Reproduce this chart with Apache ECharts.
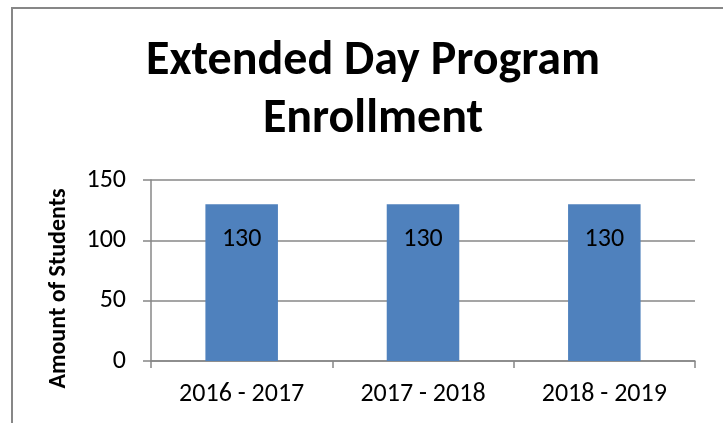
<!DOCTYPE html>
<html style="height: 100%">

<head>
  <meta charset="UTF-8" />
  <title>Extended Day Program Enrollment</title>
  <script src="https://cdn.jsdelivr.net/npm/echarts@6/dist/echarts.min.js"></script>
</head>

<body style="height: 100%; margin: 0; background: #fff">
  <div id="main" style="width: 723px; height: 423px"></div>
  <script>
    const years = ['2016 - 2017', '2017 - 2018', '2018 - 2019'];
    const enrollment = [130, 130, 130];
    const yTicks = [0, 50, 100, 150];

    const font = 'Carlito, Lato, sans-serif';
    const chart = echarts.init(document.getElementById('main'));

    const option = {
      animation: false,
      textStyle: { fontFamily: font },
      title: {
        text: 'Extended Day Program\nEnrollment',
        left: 368,
        top: 28,
        textAlign: 'center',
        textStyle: {
          fontFamily: font,
          fontSize: 48,
          fontWeight: 'bold',
          color: '#000',
          lineHeight: 58,
        },
      },
      // outer chart-area border (runs off the right and bottom)
      graphic: [{
        type: 'rect',
        shape: { x: 12, y: 8, width: 760, height: 460 },
        style: { fill: null, stroke: '#878787', lineWidth: 2 },
        silent: true,
      }],
      grid: { left: 151, right: 28, top: 180, bottom: 62 },
      xAxis: {
        type: 'category',
        data: years,
        axisLine: { lineStyle: { color: '#878787', width: 1.5 } },
        axisTick: { show: true, length: 7, lineStyle: { color: '#878787', width: 1.5 } },
        axisLabel: { color: '#000', fontSize: 26, margin: 20 },
      },
      yAxis: {
        type: 'value',
        min: yTicks[0],
        max: yTicks[yTicks.length - 1],
        interval: 50,
        name: 'Amount of Students',
        nameLocation: 'middle',
        nameGap: 80,
        nameTextStyle: {
          color: '#000', fontSize: 24, fontWeight: 'bold', padding: [0, 36, 0, 0],
        },
        axisLine: { show: true, lineStyle: { color: '#878787', width: 1.5 } },
        axisTick: { show: true, length: 8, lineStyle: { color: '#878787', width: 1.5 } },
        axisLabel: { color: '#000', fontSize: 26, margin: 25 },
        splitLine: { lineStyle: { color: '#878787', width: 1.5 } },
      },
      series: [{
        type: 'bar',
        data: enrollment,
        barWidth: '40%',
        itemStyle: { color: '#4F81BD' },
        label: {
          show: true,
          position: 'insideTop',
          distance: 22,
          color: '#000',
          fontSize: 26,
        },
      }],
    };

    chart.setOption(option);
  </script>
</body>

</html>
